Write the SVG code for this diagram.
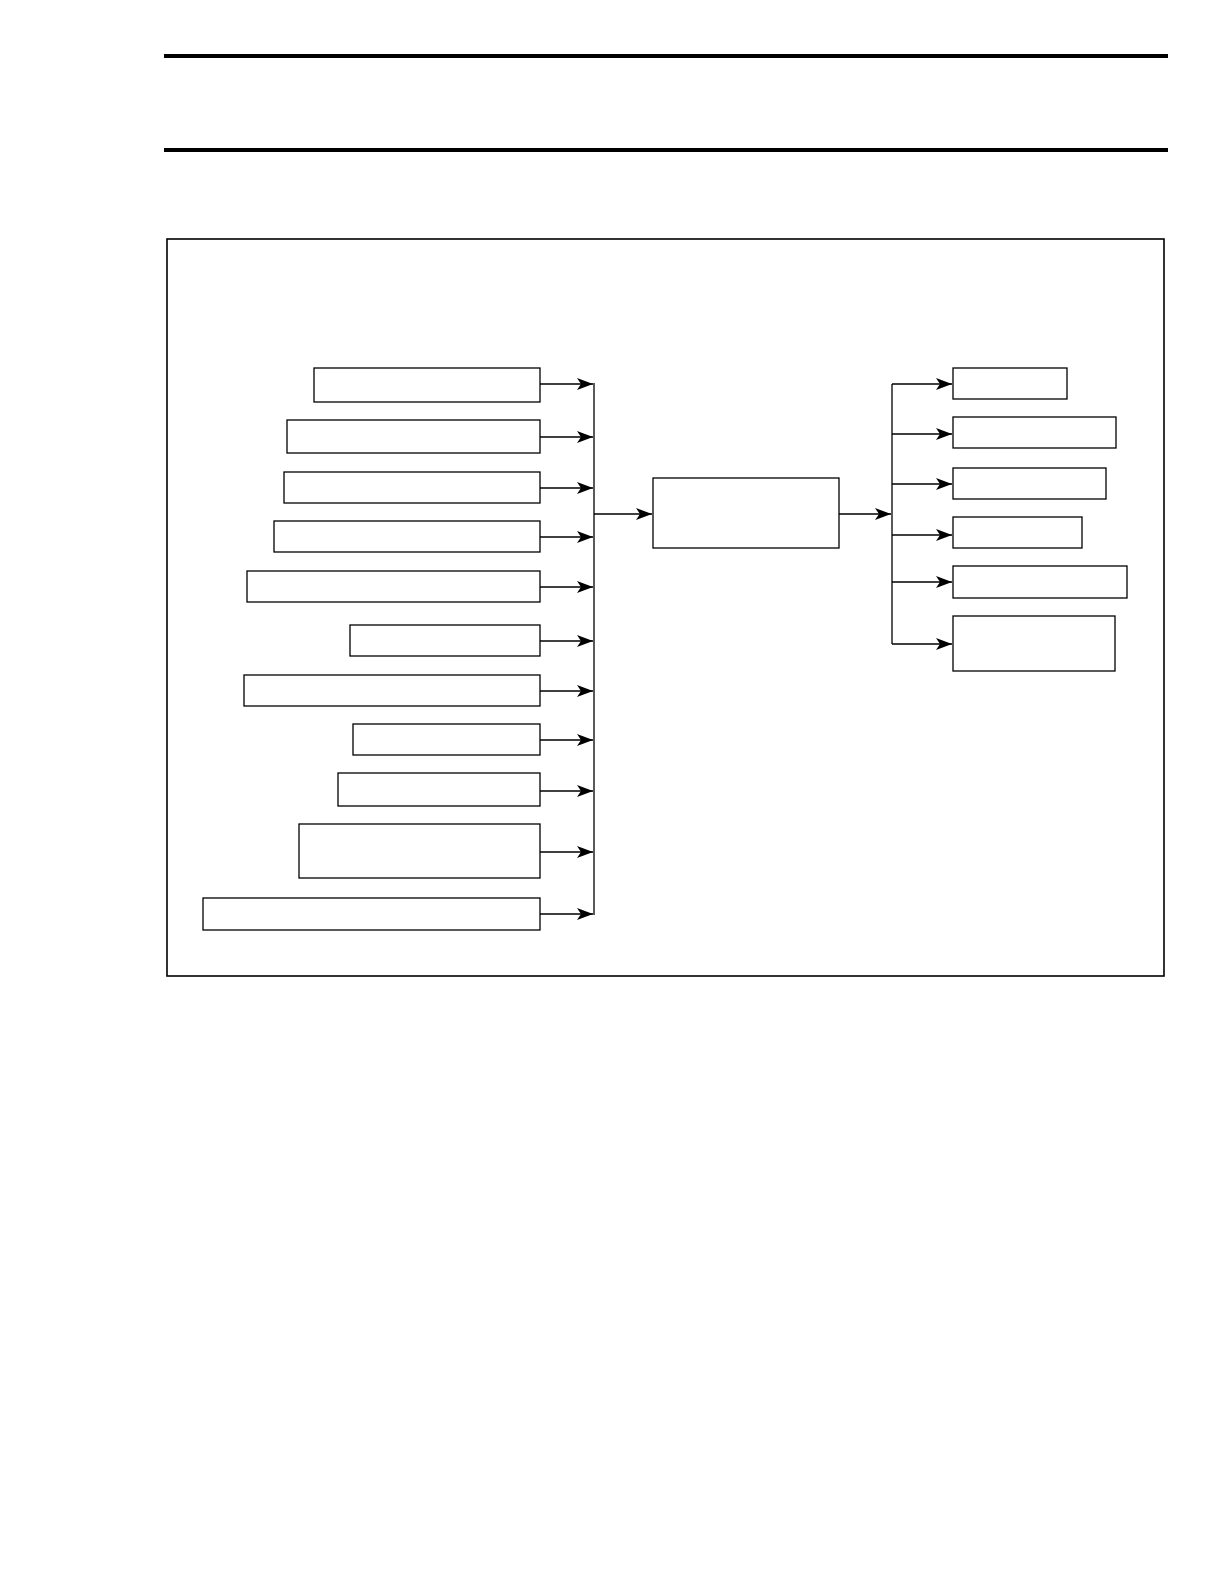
<svg xmlns="http://www.w3.org/2000/svg" width="1224" height="1584" viewBox="0 0 1224 1584">
<defs>
<marker id="ah" markerUnits="userSpaceOnUse" markerWidth="18" markerHeight="12" refX="16" refY="6" orient="auto">
<path d="M0,0 L16,6 L0,12 L4,6 Z" fill="#000"/>
</marker>
</defs>
<style>
.box{fill:#fff;stroke:#000;stroke-width:1.3}
.rule{stroke:#000;stroke-width:4}
.con{fill:none;stroke:#000;stroke-width:1.3}
.arr{fill:none;stroke:#000;stroke-width:1.3;marker-end:url(#ah)}
</style>
<rect width="1224" height="1584" fill="#fff"/>
<line class="rule" x1="164" y1="56" x2="1168" y2="56"/>
<line class="rule" x1="164" y1="150" x2="1168" y2="150"/>
<rect id="frame" x="167" y="239" width="997" height="737" fill="none" stroke="#000" stroke-width="1.6"/>
<g id="left-nodes">
<rect id="l1" class="box" x="314" y="368" width="226" height="34"/>
<rect id="l2" class="box" x="287" y="420" width="253" height="33"/>
<rect id="l3" class="box" x="284" y="472" width="256" height="31"/>
<rect id="l4" class="box" x="274" y="521" width="266" height="31"/>
<rect id="l5" class="box" x="247" y="571" width="293" height="31"/>
<rect id="l6" class="box" x="350" y="625" width="190" height="31"/>
<rect id="l7" class="box" x="244" y="675" width="296" height="31"/>
<rect id="l8" class="box" x="353" y="724" width="187" height="31"/>
<rect id="l9" class="box" x="338" y="773" width="202" height="33"/>
<rect id="l10" class="box" x="299" y="824" width="241" height="54"/>
<rect id="l11" class="box" x="203" y="898" width="337" height="32"/>
</g>
<g id="center">
<rect id="c1" class="box" x="653" y="478" width="186" height="70"/>
</g>
<g id="right-nodes">
<rect id="r1" class="box" x="953" y="368" width="114" height="31"/>
<rect id="r2" class="box" x="953" y="417" width="163" height="31"/>
<rect id="r3" class="box" x="953" y="468" width="153" height="31"/>
<rect id="r4" class="box" x="953" y="517" width="129" height="31"/>
<rect id="r5" class="box" x="953" y="566" width="174" height="32"/>
<rect id="r6" class="box" x="953" y="616" width="162" height="55"/>
</g>
<g id="connectors">
<line class="arr" x1="540" y1="384" x2="593" y2="384"/>
<line class="arr" x1="540" y1="437" x2="593" y2="437"/>
<line class="arr" x1="540" y1="488" x2="593" y2="488"/>
<line class="arr" x1="540" y1="537" x2="593" y2="537"/>
<line class="arr" x1="540" y1="587" x2="593" y2="587"/>
<line class="arr" x1="540" y1="641" x2="593" y2="641"/>
<line class="arr" x1="540" y1="691" x2="593" y2="691"/>
<line class="arr" x1="540" y1="740" x2="593" y2="740"/>
<line class="arr" x1="540" y1="791" x2="593" y2="791"/>
<line class="arr" x1="540" y1="852" x2="593" y2="852"/>
<line class="arr" x1="540" y1="914" x2="593" y2="914"/>
<line class="con" x1="594" y1="383" x2="594" y2="915"/>
<line class="arr" x1="594" y1="514" x2="652" y2="514"/>
<line class="arr" x1="839" y1="514" x2="891" y2="514"/>
<line class="con" x1="892" y1="384" x2="892" y2="644"/>
<line class="arr" x1="892" y1="384" x2="952" y2="384"/>
<line class="arr" x1="892" y1="434" x2="952" y2="434"/>
<line class="arr" x1="892" y1="484" x2="952" y2="484"/>
<line class="arr" x1="892" y1="535" x2="952" y2="535"/>
<line class="arr" x1="892" y1="582" x2="952" y2="582"/>
<line class="arr" x1="892" y1="644" x2="952" y2="644"/>
</g>
</svg>
